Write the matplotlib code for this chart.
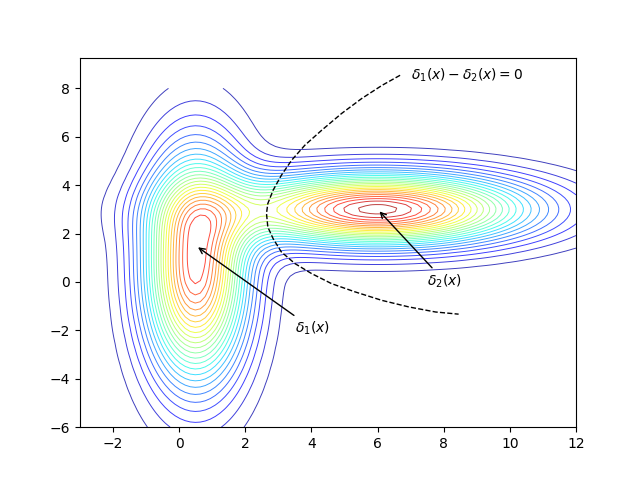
import numpy as np
import matplotlib
matplotlib.use("Agg")
import matplotlib.pyplot as plt

# Gaussian class parameters
mu1 = [0.5, 0.55]
sd1 = [1.05, 3.1]
mu2 = [6.0, 3.0]
sd2 = [3.0, 1.0]
prior1 = 0.5
prior2 = 0.5

# decision boundary points
bx = [6.68, 6.13, 5.52, 4.91, 4.31, 3.80, 3.40, 3.09, 2.84, 2.68, 2.64, 2.68,
      2.84, 3.09, 3.50, 4.00, 4.61, 5.32, 6.13, 6.94, 7.75, 8.45]
by = [8.54, 8.12, 7.58, 6.96, 6.27, 5.65, 5.03, 4.41, 3.79, 3.24, 2.83, 2.27,
      1.79, 1.24, 0.76, 0.35, -0.07, -0.41, -0.76, -1.03, -1.24, -1.33]

def gauss(X, Y, mu, sd):
    return np.exp(-0.5 * ((X - mu[0]) / sd[0]) ** 2 - 0.5 * ((Y - mu[1]) / sd[1]) ** 2) / (2 * np.pi * sd[0] * sd[1])

xg = np.linspace(-3, 12, 100)
yg = np.linspace(-6, 8, 100)
X, Y = np.meshgrid(xg, yg)
Z = prior1 * gauss(X, Y, mu1, sd1) + prior2 * gauss(X, Y, mu2, sd2)

fig, ax = plt.subplots(figsize=(6.4, 4.8), dpi=100)
ax.contour(X, Y, Z, 30, cmap='jet', linewidths=0.7, alpha=0.75)
ax.plot(bx, by, 'k--', lw=1)
ax.text(7.0, 8.35, r'$\delta_1(x) - \delta_2(x) = 0$')
ax.annotate(r'$\delta_1(x)$', xy=(0.5, 1.5), xytext=(3.5, -2.1),
            arrowprops=dict(arrowstyle='->', color='k'))
ax.annotate(r'$\delta_2(x)$', xy=(6, 3), xytext=(7.5, -0.15),
            arrowprops=dict(arrowstyle='->', color='k'))
ax.set_xlim(-3, 12)
ax.set_ylim(-6, 9.27)
fig.savefig('out.png')
